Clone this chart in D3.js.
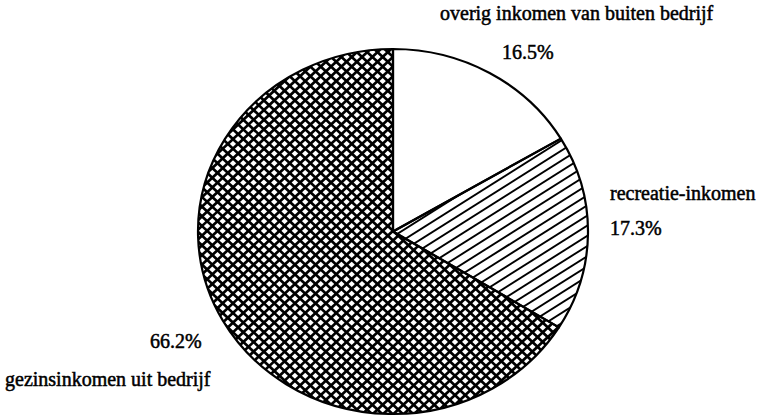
<!DOCTYPE html>
<html>
<head>
<meta charset="utf-8">
<script src="https://cdn.jsdelivr.net/npm/d3@7"></script>
<style>
  html, body { margin: 0; padding: 0; background: #fff; }
  svg { display: block; }
</style>
</head>
<body>
<script>
const categories = ["overig inkomen van buiten bedrijf", "recreatie-inkomen", "gezinsinkomen uit bedrijf"];
const values = [16.5, 17.3, 66.2];
const valueLabels = ["16.5%", "17.3%", "66.2%"];
const fills = ["white", "hatch", "cross"];

const W = 762, H = 417;
const cx = 393, cy = 231.5, rx = 195, ry = 182.5;

const svg = d3.select("body").append("svg").attr("width", W).attr("height", H);
svg.append("rect").attr("width", W).attr("height", H).attr("fill", "#fff");

const pie = d3.pie().sort(null).value(d => d)(values);
const arc = d3.arc().innerRadius(0).outerRadius(rx);

const defs = svg.append("defs");
const g = svg.append("g").attr("transform", `translate(${cx},${cy}) scale(1,${ry/rx})`);

pie.forEach((d, i) => {
  defs.append("clipPath").attr("id", "clip" + i).append("path").attr("d", arc(d));
});

g.selectAll("path.bg").data(pie).join("path")
  .attr("class", "bg").attr("d", arc).attr("fill", "#fff");

function lineFamily(i, angleDeg, spacing, width) {
  const a = angleDeg * Math.PI / 180;
  const ux = Math.cos(a), uy = Math.sin(a);
  const nx = -uy, ny = ux;
  const L = rx * 1.5;
  const offs = d3.range(-L, L + spacing, spacing);
  g.append("g").attr("clip-path", `url(#clip${i})`)
    .selectAll("line").data(offs).join("line")
    .attr("x1", o => nx * o - ux * L).attr("y1", o => ny * o - uy * L)
    .attr("x2", o => nx * o + ux * L).attr("y2", o => ny * o + uy * L)
    .attr("stroke", "#000").attr("stroke-width", width);
}
fills.forEach((f, i) => {
  if (f === "hatch") lineFamily(i, -34, 9, 2);
  if (f === "cross") { lineFamily(i, 45, 7.3, 2.8); lineFamily(i, -45, 7.3, 2.8); }
});

g.selectAll("path.outline").data(pie).join("path")
  .attr("class", "outline")
  .attr("d", arc)
  .attr("fill", "none")
  .attr("stroke", "#000")
  .attr("stroke-width", 2.2)
  .attr("stroke-linejoin", "round")
  .attr("vector-effect", "non-scaling-stroke");

const fs = 20;
const labels = [
  {t: categories[0], x: 440, y: 20},
  {t: valueLabels[0], x: 502, y: 59},
  {t: categories[1], x: 610, y: 200},
  {t: valueLabels[1], x: 610, y: 235},
  {t: valueLabels[2], x: 150, y: 348},
  {t: categories[2], x: 5, y: 386}
];
svg.selectAll("text.lbl").data(labels).join("text")
  .attr("class", "lbl")
  .attr("x", d => d.x).attr("y", d => d.y)
  .attr("font-family", "'Liberation Serif', 'Times New Roman', serif")
  .attr("font-size", fs)
  .attr("fill", "#000")
  .attr("stroke", "#000")
  .attr("stroke-width", 0.5)
  .text(d => d.t);
</script>
</body>
</html>
